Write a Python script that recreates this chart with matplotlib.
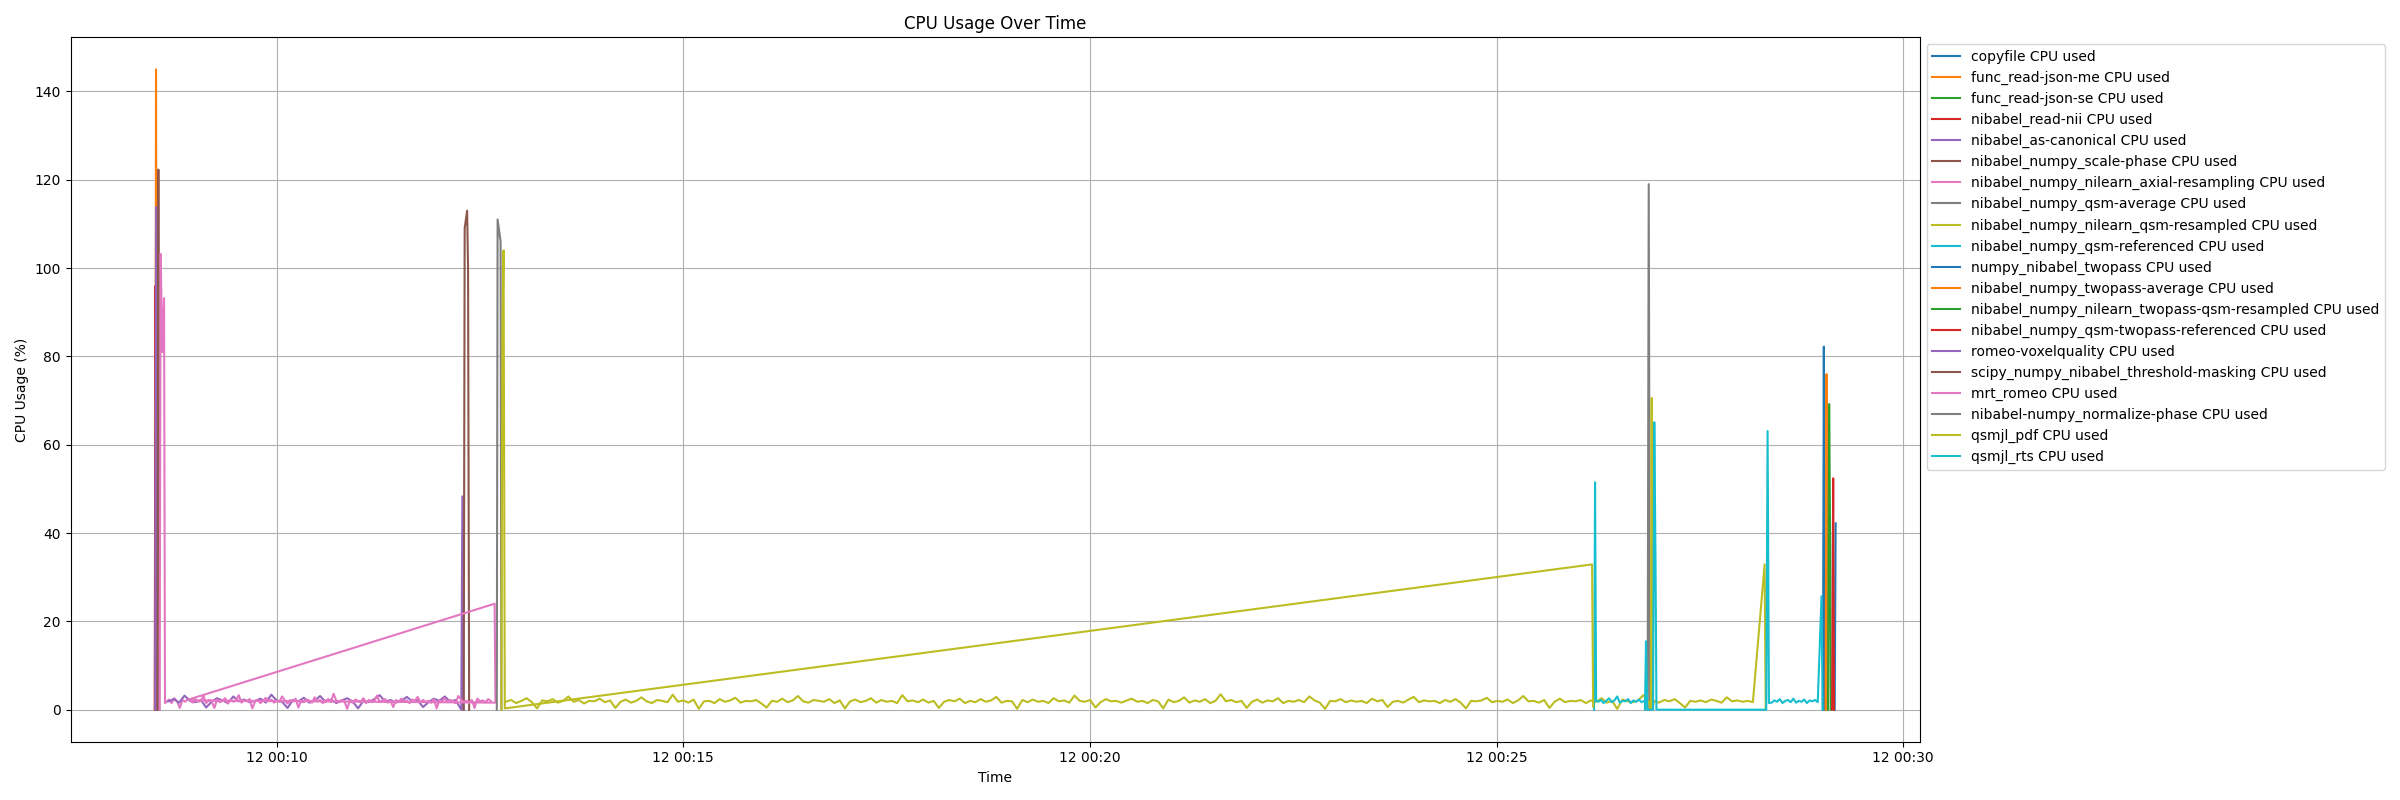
import matplotlib
matplotlib.use('Agg')
import matplotlib.pyplot as plt
import numpy as np
import pandas as pd

# start of the log, all times below are seconds after this
start = pd.Timestamp('2024-03-12 00:08:30')

names = [
    'copyfile', 'func_read-json-me', 'func_read-json-se', 'nibabel_read-nii',
    'nibabel_as-canonical', 'nibabel_numpy_scale-phase',
    'nibabel_numpy_nilearn_axial-resampling', 'nibabel_numpy_qsm-average',
    'nibabel_numpy_nilearn_qsm-resampled', 'nibabel_numpy_qsm-referenced',
    'numpy_nibabel_twopass', 'nibabel_numpy_twopass-average',
    'nibabel_numpy_nilearn_twopass-qsm-resampled',
    'nibabel_numpy_qsm-twopass-referenced', 'romeo-voxelquality',
    'scipy_numpy_nibabel_threshold-masking', 'mrt_romeo',
    'nibabel-numpy_normalize-phase', 'qsmjl_pdf', 'qsmjl_rts',
]

# (seconds, cpu %) samples per process
copyfile = [(1239.5, 0.0), (1240.2, 42.2)]
json_me = [(0.2, 0.0), (1.0, 145.0), (1.8, 0.0)]
json_se = [(0.5, 0.0), (1.3, 0.0)]
read_nii = [(0.0, 0.0), (0.6, 96.0), (1.0, 68.0), (1.5, 0.0)]
as_canonical = [(0.3, 0.0), (1.0, 113.8), (1.6, 0.0)]
scale_phase = [(2.0, 0.0), (2.7, 122.3), (3.4, 0.0)]
axial_resampling = [(3.6, 0.0), (4.4, 103.2), (5.6, 81.0), (6.9, 93.2), (7.6, 1.5)]
qsm_average = [(1101.5, 0.0), (1102.3, 119.0), (1103.2, 0.0)]
qsm_resampled = [(1103.8, 0.0), (1104.5, 70.6), (1105.2, 0.0),
                 (1187.8, 32.9), (1188.6, 0.0)]
qsm_referenced = [(1062.0, 0.0), (1062.7, 51.5), (1063.5, 2.0)]
twopass = [(1230.8, 0.0), (1231.5, 82.2), (1232.3, 0.0)]
twopass_average = [(1232.8, 0.0), (1233.5, 76.0), (1234.3, 0.0)]
twopass_resampled = [(1234.6, 0.0), (1235.4, 69.2), (1236.2, 36.5), (1236.6, 0.0)]
twopass_referenced = [(1237.6, 0.0), (1238.4, 52.4), (1239.0, 0.0)]
voxelquality_end = [(226.2, 0.0), (227.0, 48.3), (227.8, 0.0)]
threshold_masking = [(228.0, 0.0), (228.7, 109.0), (230.5, 113.0), (231.2, 100.0), (232.0, 0.0)]
romeo_head = [(25.0, 2.3), (250.8, 24.0), (251.4, 1.6)]
normalize_phase = [(252.4, 0.0), (253.0, 111.0), (255.2, 106.0), (255.8, 0.0)]
pdf = [(255.8, 0.0), (256.5, 86.0), (257.4, 104.0), (258.3, 0.3),
       (1060.5, 32.9), (1061.3, 0.7)]
rts_mid = [(1099.5, 0.0), (1100.3, 15.5), (1101.2, 0.0), (1105.5, 0.0),
           (1106.4, 65.1), (1107.3, 34.0), (1108.0, 0.0), (1189.0, 0.0),
           (1190.0, 63.1), (1191.0, 1.5)]
rts_tail = [(1229.8, 25.7), (1230.6, 0.0)]

# idle noise: (first sample s, step s, values)
axial_noise = (8.5, 2.0, [1.7, 2.3, 1.5, 2.6, 1.9, 0.4, 2.2, 1.8, 2.4])
voxelquality_noise = (10.0, 4.0, [
    1.9, 2.4, 1.6, 3.2, 2.0, 1.7, 2.2, 0.5, 1.8, 2.6, 2.1, 1.5, 3.0, 1.9, 2.3, 1.7, 2.0, 2.5, 1.6, 3.4,
    2.1, 1.8, 0.4, 2.2, 1.9, 2.7, 1.6, 2.0, 3.1, 1.8, 2.3, 1.5, 2.1, 2.6, 1.9, 0.3, 2.0, 1.7, 2.4, 3.3,
    1.8, 2.2, 1.6, 2.0, 2.9, 1.9, 2.1, 0.6, 1.7, 2.5, 2.0, 3.0, 1.8, 2.2])
romeo_noise = (26.0, 2.0, [
    2.1, 1.6, 2.4, 1.8, 2.0, 3.1, 1.5, 2.2, 1.9, 0.4, 2.3, 1.7, 2.0, 2.6, 1.4, 2.2, 1.8, 2.0, 3.3, 1.6,
    2.1, 1.9, 2.4, 0.3, 1.8, 2.2, 1.5, 2.0, 2.7, 1.9, 2.3, 1.6, 2.0, 1.8, 3.0, 2.1, 1.4, 2.2, 1.9, 2.5,
    0.5, 2.0, 1.7, 2.3, 2.1, 1.6, 2.8, 1.9, 2.2, 1.5, 2.0, 2.4, 1.8, 3.6, 2.0, 1.7, 2.2, 1.9, 0.2, 2.1,
    1.6, 2.3, 2.0, 1.8, 2.6, 1.5, 2.2, 1.9, 2.0, 3.2, 1.7, 2.1, 2.4, 1.6, 2.0, 0.6, 2.2, 1.8, 2.5, 1.9,
    2.1, 1.5, 2.3, 2.0, 2.9, 1.7, 2.2, 1.8, 2.0, 1.6, 2.4, 0.3, 2.1, 1.9, 2.6, 1.7, 2.2, 2.0, 1.5, 3.1,
    2.3, 1.8, 2.0, 1.6, 2.2, 0.4, 2.5, 1.9, 2.1, 1.7, 2.4, 2.0])
resampled_noise = (259.0, 3.85, [
    1.8, 2.2, 1.5, 2.0, 2.6, 1.7, 0.3, 2.1, 1.9, 2.4, 1.6, 2.0, 3.0, 1.8, 2.2, 1.4, 2.0, 1.9, 2.5, 1.7,
    2.1, 0.4, 1.8, 2.3, 1.6, 2.0, 2.8, 1.9, 1.5, 2.2, 2.0, 1.7, 3.4, 1.8, 2.1, 1.6, 2.3, 0.2, 1.9, 2.0,
    1.5, 2.4, 1.8, 2.1, 2.7, 1.6, 2.0, 1.9, 2.2, 1.4, 0.5, 2.0, 1.8, 2.5, 1.7, 2.1, 3.1, 1.9, 1.6, 2.2,
    2.0, 1.8, 2.4, 1.5, 2.1, 0.3, 1.9, 2.3, 1.7, 2.0, 2.6, 1.6, 2.2, 1.8, 2.0, 1.5, 3.3, 1.9, 2.1, 1.7,
    2.3, 1.6, 2.0, 0.4, 1.8, 2.2, 1.9, 2.5, 1.5, 2.0, 1.7, 2.4, 1.8, 2.1, 2.9, 1.6, 2.0, 1.9, 0.2, 2.2,
    1.7, 2.3, 1.8, 2.0, 1.5, 2.6, 1.9, 2.1, 1.6, 3.2, 2.0, 1.8, 2.2, 0.5, 1.7, 2.4, 1.9, 2.0, 1.6, 2.1,
    2.5, 1.8, 2.0, 1.5, 2.2, 1.9, 0.3, 2.3, 1.7, 2.0, 2.8, 1.6, 2.1, 1.8, 2.4, 1.5, 2.0, 3.5, 1.9, 2.2,
    1.7, 2.0, 0.4, 1.8, 2.3, 1.6, 2.1, 1.9, 2.6, 1.5, 2.0, 1.8, 2.2, 1.7, 3.0, 2.1, 1.6, 0.2, 2.0, 1.9,
    2.4, 1.7, 2.1, 1.8, 2.0, 1.5, 2.5, 1.9, 2.2, 0.6, 1.8, 2.0, 1.6, 2.3, 2.9, 1.7, 2.1, 1.9, 2.0, 1.5,
    2.2, 1.8, 2.4, 1.6, 0.3, 2.0, 1.9, 2.1, 2.7, 1.7, 2.0, 1.8, 2.3, 1.5, 2.1, 3.1, 1.9, 2.0, 1.6, 2.2,
    0.4, 1.8, 2.5, 1.7, 2.0, 1.9, 2.2, 1.5, 2.1, 1.8, 2.6, 1.6, 2.0, 0.2, 2.3, 1.9, 1.7, 2.1, 3.3, 1.8,
    2.0, 1.6, 2.2, 1.9, 2.4, 1.5, 0.5, 2.0, 1.8, 2.1, 1.7, 2.3, 2.0, 1.6, 2.8, 1.9, 2.1, 1.8, 2.0, 1.7])
referenced_noise = (1065.0, 2.0, [1.8, 2.2, 1.5, 2.0, 2.6, 1.7, 2.1, 3.0, 1.6,
                                  2.0, 1.9, 2.4, 1.5, 2.1, 1.8, 2.3, 1.7, 2.0])
rts_noise = (1193.0, 2.0, [1.6, 2.1, 1.8, 2.4, 1.5, 2.0, 2.2, 1.7, 2.5,
                           1.6, 2.0, 1.8, 2.3, 1.5, 2.1, 1.9, 2.2, 1.7])


def noise(n):
    t0, step, vals = n
    return [(t0 + i * step, v) for i, v in enumerate(vals)]


# samples in logged order (not always sorted by time)
series = [
    copyfile, json_me, json_se, read_nii, as_canonical, scale_phase,
    axial_resampling + noise(axial_noise),
    qsm_average,
    sorted(qsm_resampled + noise(resampled_noise)),
    qsm_referenced + noise(referenced_noise),
    twopass, twopass_average, twopass_resampled, twopass_referenced,
    noise(voxelquality_noise) + voxelquality_end,
    threshold_masking,
    romeo_head + noise(romeo_noise),
    normalize_phase,
    pdf,
    rts_mid + noise(rts_noise) + rts_tail,
]

fig, ax = plt.subplots(figsize=(24, 8), dpi=100)

for name, pts in zip(names, series):
    secs = np.array([p[0] for p in pts])
    vals = [p[1] for p in pts]
    times = start + pd.to_timedelta(secs, unit='s')
    ax.plot(times, vals, label=name + ' CPU used')

ax.set_title('CPU Usage Over Time')
ax.set_xlabel('Time')
ax.set_ylabel('CPU Usage (%)')
ax.grid(True)
ax.legend(loc='upper left', bbox_to_anchor=(1, 1))
fig.tight_layout()
fig.savefig('out.png')
